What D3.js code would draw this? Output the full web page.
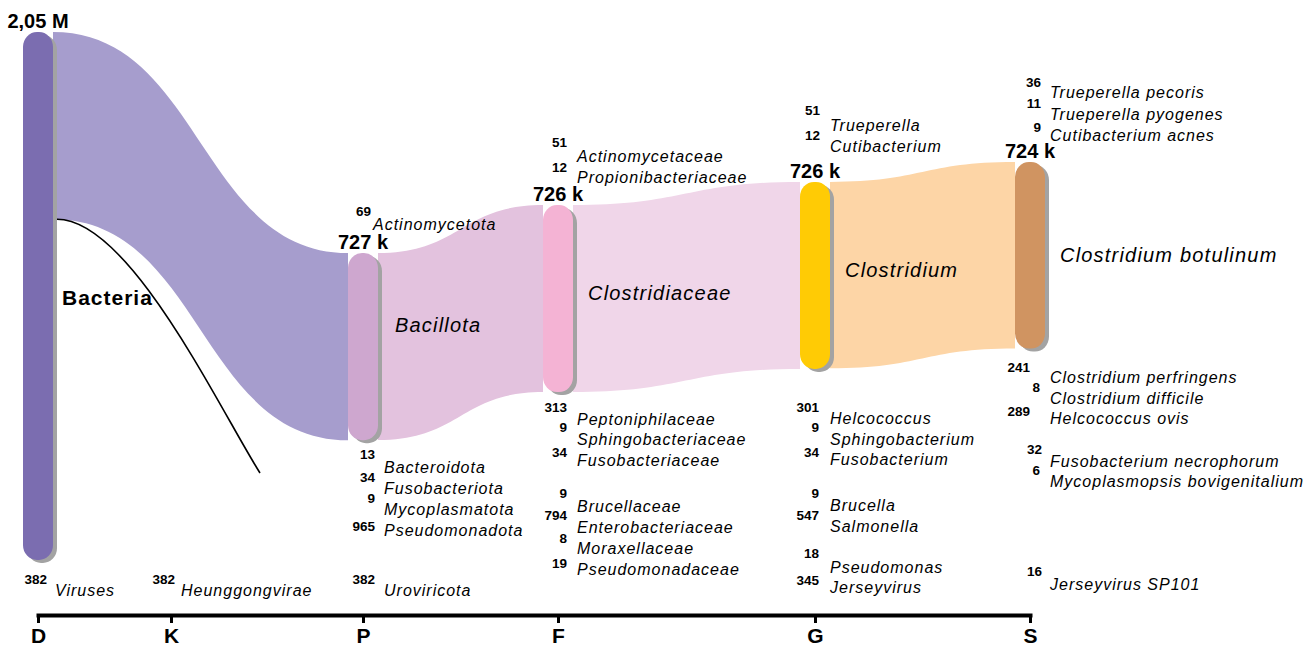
<!DOCTYPE html>
<html><head><meta charset="utf-8">
<script src="https://cdn.jsdelivr.net/npm/d3@7"></script>
<style>
body{margin:0;background:#fff;}
svg{display:block;}
</style></head><body>
<svg id="chart" width="1306" height="648"></svg>
<script>
// ---------------- DATA ----------------
const ranks = ["D", "K", "P", "F", "G", "S"];

const nodeNames = ["Bacteria", "Bacillota", "Clostridiaceae", "Clostridium", "Clostridium botulinum"];
const nodeRanks = ["D", "P", "F", "G", "S"];
const nodeReads = [2050000, 727000, 726000, 726000, 724000];

const linkSource = [0, 1, 2, 3];
const linkTarget = [1, 2, 3, 4];
const linkReads  = [727000, 726000, 726000, 724000];

// minor taxa (listed as labels)
const domainOtherNames   = ["Viruses"];
const domainOtherReads   = [382];
const kingdomOtherNames  = ["Heunggongvirae"];
const kingdomOtherReads  = [382];
const phylumAboveNames   = ["Actinomycetota"];
const phylumAboveReads   = [69];
const phylumBelowNames   = ["Bacteroidota", "Fusobacteriota", "Mycoplasmatota", "Pseudomonadota"];
const phylumBelowReads   = [13, 34, 9, 965];
const phylumVirusNames   = ["Uroviricota"];
const phylumVirusReads   = [382];
const familyAboveNames   = ["Actinomycetaceae", "Propionibacteriaceae"];
const familyAboveReads   = [51, 12];
const familyBelowNames   = ["Peptoniphilaceae", "Sphingobacteriaceae", "Fusobacteriaceae", "Brucellaceae", "Enterobacteriaceae", "Moraxellaceae", "Pseudomonadaceae"];
const familyBelowReads   = [313, 9, 34, 9, 794, 8, 19];
const genusAboveNames    = ["Trueperella", "Cutibacterium"];
const genusAboveReads    = [51, 12];
const genusBelowNames    = ["Helcococcus", "Sphingobacterium", "Fusobacterium", "Brucella", "Salmonella", "Pseudomonas", "Jerseyvirus"];
const genusBelowReads    = [301, 9, 34, 9, 547, 18, 345];
const speciesAboveNames  = ["Trueperella pecoris", "Trueperella pyogenes", "Cutibacterium acnes"];
const speciesAboveReads  = [36, 11, 9];
const speciesBelowNames  = ["Clostridium perfringens", "Clostridium difficile", "Helcococcus ovis", "Fusobacterium necrophorum", "Mycoplasmopsis bovigenitalium", "Jerseyvirus SP101"];
const speciesBelowReads  = [241, 8, 289, 32, 6, 16];

// ---------------- LAYOUT / STYLE ----------------
const nodeWidth = 30;
const rankX = [38, 171, 363, 558, 815, 1030];
const nodeOffsetReads = [0, 858000, 672000, 582000, 505000]; // vertical layout offset in read units
const nodeColors = ["#7b6db0", "#cea7cf", "#f4b3d4", "#ffcb05", "#d09461"];
const linkColors = ["#a69dcd", "#e3c2de", "#f0d6e9", "#fdd5a6"];
const nameLabelDx = [9, 17, 15, 15, 15];
const nameLabelDy = [9, -15, 1.5, 1.5, 6.5];
const FONT = "'Liberation Sans', Arial, Helvetica, sans-serif";

const labelGroups = [
  {names: domainOtherNames,  reads: domainOtherReads,  numX: 47,   nameX: 55,   nameY: [596], numY: [584]},
  {names: kingdomOtherNames, reads: kingdomOtherReads, numX: 175,  nameX: 181,  nameY: [596], numY: [584]},
  {names: phylumAboveNames,  reads: phylumAboveReads,  numX: 371,  nameX: 373,  nameY: [230], numY: [216]},
  {names: phylumBelowNames,  reads: phylumBelowReads,  numX: 375,  nameX: 384,  nameY: [473, 494, 515, 536], numY: [459, 482, 503, 531]},
  {names: phylumVirusNames,  reads: phylumVirusReads,  numX: 375,  nameX: 384,  nameY: [596], numY: [584]},
  {names: familyAboveNames,  reads: familyAboveReads,  numX: 567,  nameX: 577,  nameY: [162, 183], numY: [147, 172]},
  {names: familyBelowNames,  reads: familyBelowReads,  numX: 567,  nameX: 577,  nameY: [425, 445, 466, 512, 533, 554, 575], numY: [412, 432, 457, 498, 520, 543, 568]},
  {names: genusAboveNames,   reads: genusAboveReads,   numX: 820,  nameX: 830,  nameY: [131, 152], numY: [115, 140]},
  {names: genusBelowNames,   reads: genusBelowReads,   numX: 819,  nameX: 830,  nameY: [424, 445, 465, 511, 532, 573, 593], numY: [412, 432, 457, 498, 520, 558, 585]},
  {names: speciesAboveNames, reads: speciesAboveReads, numX: 1041, nameX: 1050, nameY: [98, 120, 141], numY: [87, 108, 132]},
  {names: speciesBelowNames, reads: speciesBelowReads, numX: [1030, 1040, 1030, 1042, 1040, 1042], nameX: 1050, nameY: [383, 404, 424, 467, 487, 590], numY: [372, 392, 416, 454, 475, 576]}
];

// ---------------- SCALES ----------------
const x = d3.scaleOrdinal().domain(ranks).range(rankX);
const y = d3.scaleLinear().domain([0, 2050000]).range([32, 560]);
const h = v => y(v) - y(0);

const svg = d3.select("#chart");

const nodes = nodeNames.map((n, i) => {
  const cx = x(nodeRanks[i]);
  const y0 = y(nodeOffsetReads[i]);
  return {name: n, reads: nodeReads[i], cx, x0: cx - nodeWidth / 2, x1: cx + nodeWidth / 2,
          y0, y1: y0 + h(nodeReads[i]), color: nodeColors[i], outY: y0, inY: y0};
});

// ---------------- LINKS ----------------
function bandPath(x0, ya, x1, yb, w) {
  const xm = (x0 + x1) / 2;
  const p = d3.path();
  p.moveTo(x0, ya);
  p.bezierCurveTo(xm, ya, xm, yb, x1, yb);
  p.lineTo(x1, yb + w);
  p.bezierCurveTo(xm, yb + w, xm, ya + w, x0, ya + w);
  p.closePath();
  return p.toString();
}

const links = linkReads.map((v, i) => {
  const s = nodes[linkSource[i]], t = nodes[linkTarget[i]];
  const w = h(v);
  const l = {x0: s.x1, ya: s.outY, x1: t.x0, yb: t.inY, w, color: linkColors[i]};
  s.outY += w; t.inY += w;
  return l;
});

svg.append("g").selectAll("path").data(links).join("path")
  .attr("d", d => bandPath(d.x0, d.ya, d.x1, d.yb, d.w))
  .attr("fill", d => d.color);

// thin black stray link from Bacteria below the main flow
{
  const s = nodes[0];
  const sx = s.x1 + 4, sy = s.outY;
  const ex = 260, ey = 473;
  const p = d3.path();
  p.moveTo(sx, sy);
  p.bezierCurveTo(sx + 0.36 * (ex - sx), sy, sx + 0.8 * (ex - sx), sy + 0.747 * (ey - sy), ex, ey);
  svg.append("path").attr("d", p.toString()).attr("fill", "none")
    .attr("stroke", "#000").attr("stroke-width", 1.6);
}

// ---------------- NODES ----------------
const ng = svg.append("g");
ng.selectAll("rect.shadow").data(nodes).join("rect").attr("class", "shadow")
  .attr("x", d => d.x0 + 4).attr("y", d => d.y0 + 3)
  .attr("width", nodeWidth).attr("height", d => d.y1 - d.y0)
  .attr("rx", 14).attr("ry", 15).attr("fill", "#a3a3a3");
ng.selectAll("rect.node").data(nodes).join("rect").attr("class", "node")
  .attr("x", d => d.x0).attr("y", d => d.y0)
  .attr("width", nodeWidth).attr("height", d => d.y1 - d.y0)
  .attr("rx", 14).attr("ry", 15).attr("fill", d => d.color);

// value labels above nodes
const fmtReads = v => v >= 1e6 ? (v / 1e6).toFixed(2).replace(".", ",") + " M" : Math.round(v / 1000) + " k";
ng.selectAll("text.val").data(nodes).join("text").attr("class", "val")
  .attr("x", d => d.cx).attr("y", d => d.y0 - 4)
  .attr("text-anchor", "middle")
  .style("font-family", FONT).style("font-weight", "bold").style("font-size", "20px")
  .text(d => fmtReads(d.reads));

// node names
ng.selectAll("text.nm").data(nodes).join("text").attr("class", "nm")
  .attr("x", (d, i) => d.x1 + nameLabelDx[i])
  .attr("y", (d, i) => (d.y0 + d.y1) / 2 + nameLabelDy[i])
  .style("font-family", FONT)
  .style("font-weight", (d, i) => i === 0 ? "bold" : "normal")
  .style("font-style", (d, i) => i === 0 ? "normal" : "italic")
  .style("font-size", (d, i) => i === 0 ? "21px" : "20px")
  .style("letter-spacing", (d, i) => i === 0 ? "1px" : "1.2px")
  .text(d => d.name);

// ---------------- MINOR LABELS ----------------
const lg = svg.append("g");
labelGroups.forEach(g => {
  g.names.forEach((n, i) => {
    lg.append("text").attr("x", Array.isArray(g.numX) ? g.numX[i] : g.numX).attr("y", g.numY[i])
      .attr("text-anchor", "end")
      .style("font-family", FONT).style("font-weight", "bold").style("font-size", "13.5px")
      .text(g.reads[i]);
    lg.append("text").attr("x", g.nameX).attr("y", g.nameY[i])
      .style("font-family", FONT).style("font-style", "italic").style("font-size", "16px")
      .style("letter-spacing", "1px")
      .text(n);
  });
});

// ---------------- AXIS ----------------
const axis = d3.axisBottom(x).tickSize(8).tickSizeOuter(0).tickPadding(5);
const ag = svg.append("g").attr("transform", "translate(0,615)").call(axis);
ag.select(".domain").attr("stroke", "#000").attr("stroke-width", 4).attr("stroke-linecap", "square");
ag.selectAll(".tick line").attr("stroke", "#000").attr("stroke-width", 3);
ag.selectAll(".tick text").attr("fill", "#000").attr("dy", "0.72em")
  .style("font-family", FONT).style("font-weight", "bold").style("font-size", "21px");
</script>
</body></html>
